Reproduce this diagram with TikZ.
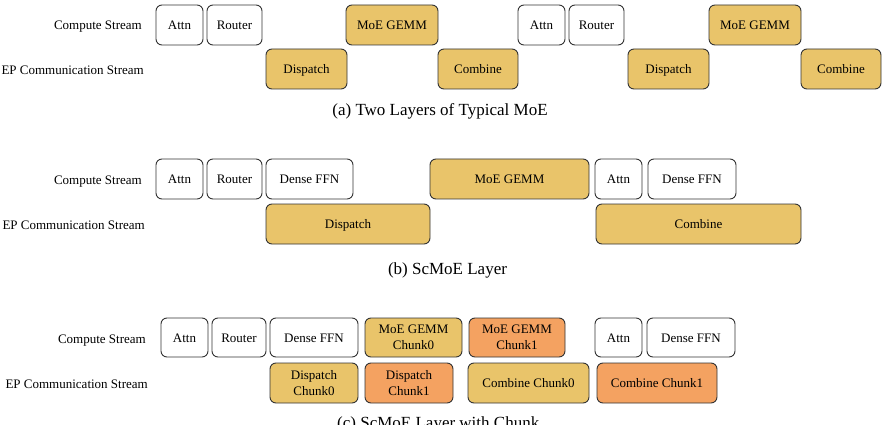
\documentclass[tikz,border=0pt]{standalone}
\usepackage{fontspec}
\setmainfont{Liberation Serif}
\definecolor{gold}{HTML}{E9C46A}
\definecolor{orng}{HTML}{F4A261}
\definecolor{edge}{HTML}{333333}
\begin{document}
\begin{tikzpicture}[x=1pt,y=-1pt,
  base/.style={draw=edge, line width=0.9pt, rounded corners=6pt, inner sep=0pt, align=center,
     font=\fontsize{13}{15.6}\selectfont, text=black, minimum height=40pt},
  oneline/.style={text height=9.4pt, text depth=0pt},
  wbox/.style={base, oneline, fill=white},
  gbox/.style={base, oneline, fill=gold},
  obox/.style={base, oneline, fill=orng},
  gtwo/.style={base, fill=gold},
  otwo/.style={base, fill=orng},
  lbl/.style={anchor=base east, inner sep=0pt, font=\fontsize{13}{15}\selectfont},
  captext/.style={anchor=base, inner sep=0pt, font=\fontsize{17}{19}\selectfont}]
\useasboundingbox (0,0) rectangle (884,425);
% (a)
\node[lbl] (la1) at (142,29.5) {Compute Stream};
\node[lbl] (la2) at (144,75) {EP Communication Stream};
\node[wbox, minimum width=47pt] (aattn) at (179.5,25) {Attn};
\node[wbox, minimum width=55pt] (arouter) at (234.5,25) {Router};
\node[gbox, minimum width=92pt] (amoe) at (392,25) {MoE GEMM};
\node[gbox, minimum width=81pt] (adisp) at (306.5,69) {Dispatch};
\node[gbox, minimum width=80pt] (acomb) at (478,69) {Combine};
\node[wbox, minimum width=47pt] (aattn2) at (541.5,25) {Attn};
\node[wbox, minimum width=55pt] (arouter2) at (596.5,25) {Router};
\node[gbox, minimum width=81pt] (adisp2) at (668.5,69) {Dispatch};
\node[gbox, minimum width=92pt] (amoe2) at (755,25) {MoE GEMM};
\node[gbox, minimum width=80pt] (acomb2) at (841,69) {Combine};
\node[captext] (capa) at (440,116) {(a) Two Layers of Typical MoE};
% (b)
\node[lbl] (lb1) at (142,184.5) {Compute Stream};
\node[lbl] (lb2) at (145,229.3) {EP Communication Stream};
\node[wbox, minimum width=47pt] (battn) at (179.5,179) {Attn};
\node[wbox, minimum width=55pt] (brouter) at (234.5,179) {Router};
\node[wbox, minimum width=87pt] (bffn) at (309.5,179) {Dense FFN};
\node[gbox, minimum width=159pt] (bmoe) at (509.5,179) {MoE GEMM};
\node[gbox, minimum width=164pt] (bdisp) at (348,224) {Dispatch};
\node[wbox, minimum width=47pt] (battn2) at (618.5,179) {Attn};
\node[wbox, minimum width=88pt] (bffn2) at (692,179) {Dense FFN};
\node[gbox, minimum width=205pt] (bcomb) at (698.5,224) {Combine};
\node[captext] (capb) at (447.5,274) {(b) ScMoE Layer};
% (c)
\node[lbl] (lc1) at (146,343.3) {Compute Stream};
\node[lbl] (lc2) at (148,388.3) {EP Communication Stream};
\node[wbox, minimum width=47pt, minimum height=39pt] (cattn) at (184.5,337.5) {Attn};
\node[wbox, minimum width=54pt, minimum height=39pt] (crouter) at (239,337.5) {Router};
\node[wbox, minimum width=88pt, minimum height=39pt] (cffn) at (314,337.5) {Dense FFN};
\node[gtwo, minimum width=97pt, minimum height=39pt] (cmoe0) at (413.5,337.5) {MoE GEMM\\Chunk0};
\node[otwo, minimum width=96pt, minimum height=39pt] (cmoe1) at (517,337.5) {MoE GEMM\\Chunk1};
\node[wbox, minimum width=47pt, minimum height=39pt] (cattn2) at (618.5,337.5) {Attn};
\node[wbox, minimum width=88pt, minimum height=39pt] (cffn2) at (691,337.5) {Dense FFN};
\node[gtwo, minimum width=88pt] (cdisp0) at (314,383) {Dispatch\\Chunk0};
\node[otwo, minimum width=88pt] (cdisp1) at (409,383) {Dispatch\\Chunk1};
\node[gbox, minimum width=121pt] (ccomb0) at (528.5,383) {Combine Chunk0};
\node[obox, minimum width=120pt] (ccomb1) at (657,383) {Combine Chunk1};
\node[captext, anchor=base west] (capc) at (337,428) {(c) ScMoE Layer with Chunk};
\end{tikzpicture}
\end{document}
